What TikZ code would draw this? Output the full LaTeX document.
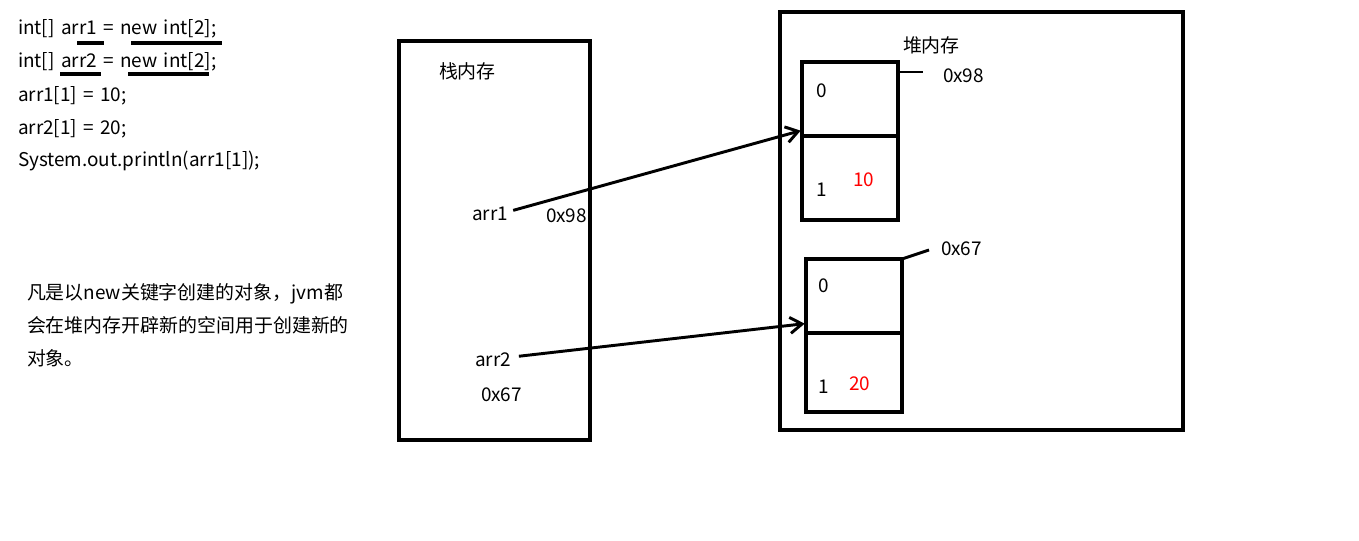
\documentclass[tikz,border=0pt]{standalone}
\usepackage{fontspec}
\setmainfont{Noto Sans CJK SC}[WordSpace=1.5]
\usetikzlibrary{arrows.meta}
\begin{document}
\begin{tikzpicture}[x=0.75pt,y=-0.75pt,
  every node/.style={inner sep=0pt,outer sep=0pt,font=\fontsize{14.2}{17}\selectfont},
  txt/.style={anchor=base west},
  box/.style={draw,line width=2.5pt,anchor=north west},
  cell/.style={draw,line width=2.5pt,anchor=north west,minimum width=72pt},
  ptr/.style={line width=2.2pt,-{Straight Barb[length=9pt,width=12pt,line width=2.2pt]}},
  tick/.style={line width=2.2pt},
  uline/.style={line width=2.5pt},
  val/.style={anchor=base west,text=red}]
\useasboundingbox (0,0) rectangle (1359,541);

% source code
\node[txt] (c1) at (18,35) {int[] arr1 = new int[2];};
\node[txt] (c2) at (18,68) {int[] arr2 = new int[2];};
\node[txt] (c3) at (18,102) {arr1[1] = 10;};
\node[txt] (c4) at (18,135) {arr2[1] = 20;};
\node[txt] (c5) at (18,167) {System.out.println(arr1[1]);};
\draw[uline] (77,43) -- (104,43);
\draw[uline] (131,43) -- (222,43);
\draw[uline] (60,74) -- (101,74);
\draw[uline] (128,74) -- (209,74);

% note
\node[txt] (n1) at (27,300) {凡是以new关键字创建的对象，jvm都};
\node[txt] (n2) at (27,333) {会在堆内存开辟新的空间用于创建新的};
\node[txt] (n3) at (27,365) {对象。};

% stack
\node[box,minimum width=143.25pt,minimum height=299.25pt] (stack) at (399,41) {};
\node[txt] (stackt) at (439,79) {栈内存};
\node[txt] (arr1) at (472,221) {arr1};
\node[txt] (addr1) at (546,223) {0x98};
\node[txt] (arr2) at (475,367) {arr2};
\node[txt] (addr2) at (481,401) {0x67};

% heap
\node[box,minimum width=302.25pt,minimum height=313.5pt] (heap) at (780,12) {};
\node[txt] (heapt) at (903,53) {堆内存};

% first array
\node[cell,minimum height=55.5pt] (a1c0) at (802,62) {};
\node[cell,minimum height=63pt] (a1c1) at (802,136) {};
\node[txt] (a1i0) at (816,98) {0};
\node[txt] (a1i1) at (816,197) {1};
\node[val] (a1v1) at (853,187) {10};
\coordinate (t1) at (923,72);
\draw[tick] (a1c0.east |- t1) -- (t1);
\node[txt] (h1) at (943,83) {0x98};

% second array
\node[cell,minimum height=55.5pt] (a2c0) at (806,259) {};
\node[cell,minimum height=59.25pt] (a2c1) at (806,333) {};
\node[txt] (a2i0) at (818,293) {0};
\node[txt] (a2i1) at (818,393) {1};
\node[val] (a2v1) at (849,390) {20};
\coordinate (t2) at (929,250);
\draw[tick] (a2c0.north east) -- (t2);
\node[txt] (h2) at (941,256) {0x67};

% references
\draw[ptr] ([xshift=4pt,yshift=3pt]arr1.east) -- ([xshift=-1pt,yshift=4pt]a1c0.south west);
\draw[ptr] ([xshift=6pt,yshift=3pt]arr2.east) -- ([xshift=-1pt,yshift=7pt]a2c0.south west);
\end{tikzpicture}
\end{document}
